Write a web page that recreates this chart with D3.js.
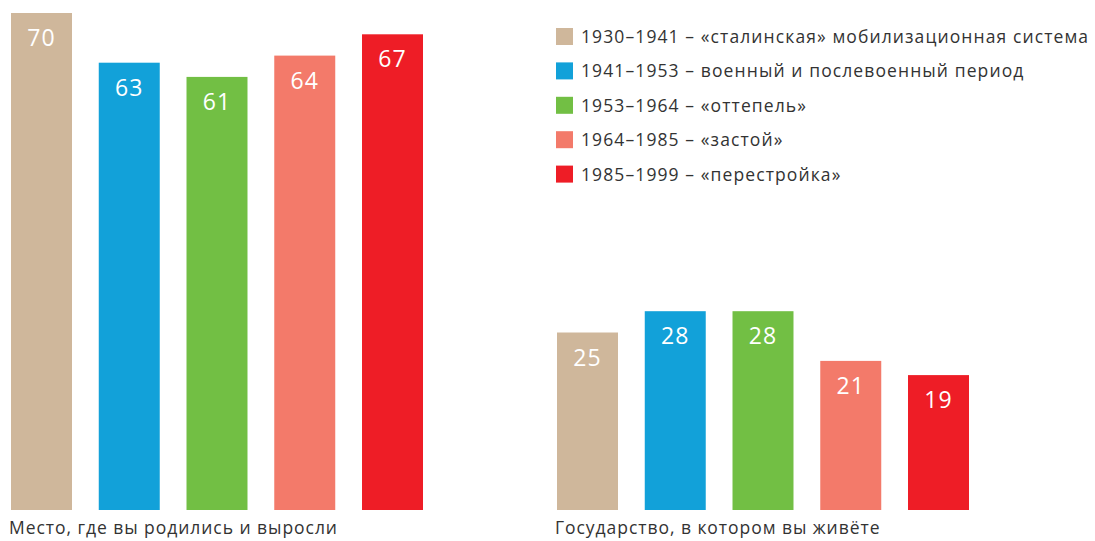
<!DOCTYPE html>
<html>
<head>
<meta charset="utf-8">
<script src="https://cdn.jsdelivr.net/npm/d3@7"></script>
<style>
  body { margin: 0; background: #fff; }
  text { font-family: "Open Sans", sans-serif; }
</style>
</head>
<body>
<div id="chart"></div>
<script>
var periods = ["1930–1941", "1941–1953", "1953–1964", "1964–1985", "1985–1999"];
var periodNames = ["«сталинская» мобилизационная система", "военный и послевоенный период",
                   "«оттепель»", "«застой»", "«перестройка»"];
var colors = ["#CFB79B", "#12A1D9", "#72BF44", "#F37A6A", "#EE1D26"];
var birthplace = [70, 63, 61, 64, 67];
var stateValues = [25, 28, 28, 21, 19];
var groupTitles = ["Место, где вы родились и выросли", "Государство, в котором вы живёте"];

var width = 1095, height = 541;

var svg = d3.select("#chart")
    .append("svg")
    .attr("width", width)
    .attr("height", height);

var y = d3.scaleLinear()
    .domain([0, 70])
    .range([510, 13]);

function drawGroup(values, x0, title) {
  var x = d3.scaleBand()
      .domain(periods)
      .range([x0, x0 + 412])
      .paddingInner(0.305)
      .paddingOuter(0);

  var g = svg.append("g");

  var bar = g.selectAll(".bar")
      .data(values)
      .enter()
      .append("g")
      .attr("class", "bar");

  bar.append("rect")
      .attr("x", function(d, i) { return x(periods[i]); })
      .attr("y", function(d) { return y(d); })
      .attr("width", x.bandwidth())
      .attr("height", function(d) { return y(0) - y(d); })
      .attr("fill", function(d, i) { return colors[i]; });

  bar.append("text")
      .attr("x", function(d, i) { return x(periods[i]) + x.bandwidth() / 2; })
      .attr("y", function(d) { return y(d) + 33; })
      .attr("text-anchor", "middle")
      .attr("font-size", 23)
      .attr("letter-spacing", 1)
      .attr("fill", "#fff")
      .text(function(d) { return d; });

  g.append("text")
      .attr("x", x0 - 2)
      .attr("y", 534)
      .attr("font-size", 17.5)
      .attr("letter-spacing", 0.95)
      .attr("fill", "#333")
      .text(title);
}

drawGroup(birthplace, 11, groupTitles[0]);
drawGroup(stateValues, 557, groupTitles[1]);

// legend
var legend = svg.append("g")
    .selectAll(".legend")
    .data(periods)
    .enter()
    .append("g")
    .attr("class", "legend")
    .attr("transform", function(d, i) {
        return "translate(556," + (28 + i * 34.4) + ")";
    });

legend.append("rect")
    .attr("width", 17)
    .attr("height", 17)
    .attr("fill", function(d, i) { return colors[i]; });

legend.append("text")
    .attr("x", 25)
    .attr("y", 15)
    .attr("font-size", 17.5)
    .attr("letter-spacing", 1.1)
    .attr("fill", "#333")
    .text(function(d, i) { return d + " – " + periodNames[i]; });
</script>
</body>
</html>
